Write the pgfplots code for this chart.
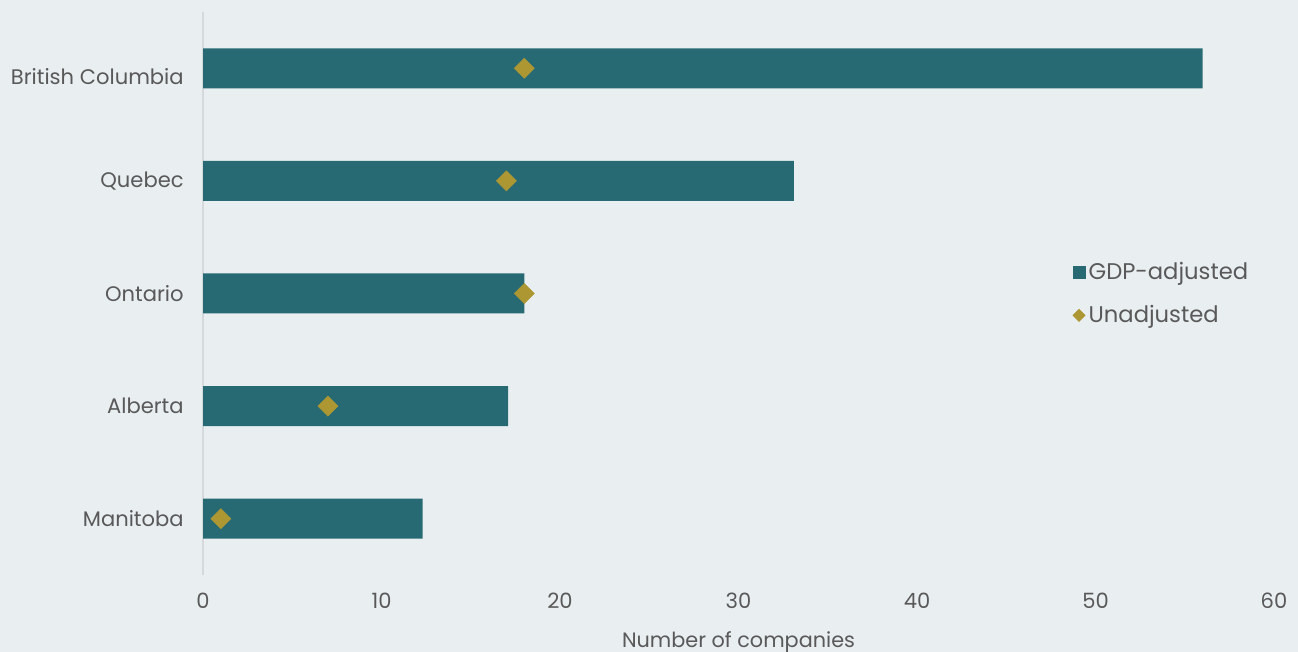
\documentclass[border=0pt]{standalone}
\usepackage{fontspec}
\setmainfont{Poppins}
\usepackage{pgfplots}
\pgfplotsset{compat=1.18}
\definecolor{bg}{HTML}{E9EEF1}
\definecolor{barc}{HTML}{286A73}
\definecolor{diac}{HTML}{AD9733}
\definecolor{txt}{HTML}{595959}
\definecolor{axl}{HTML}{D6D9DB}
\begin{document}
\begin{tikzpicture}
\fill[bg] (0pt,0pt) rectangle (973.5pt,489pt);
\begin{axis}[
  at={(152.25pt,57.75pt)}, anchor=south west,
  scale only axis, width=803.25pt, height=422.25pt,
  xmin=0, xmax=60, ymin=-0.5, ymax=4.5,
  xtick={0,10,...,60},
  ytick={0,1,2,3,4},
  yticklabels={Manitoba,Alberta,Ontario,Quebec,\rule{0pt}{25pt}British Columbia},
  /pgf/number format/assume math mode=true,
  axis lines*=left,
  x axis line style={draw=none},
  y axis line style={draw=axl, line width=1.2pt},
  major tick length=0pt,
  tick label style={font=\fontsize{15.8}{18}\selectfont, text=txt},
  xticklabel style={yshift=-10pt},
  yticklabel style={xshift=-11pt},
  xlabel={Number of companies},
  xlabel style={font=\fontsize{15.6}{18}\selectfont, text=txt, yshift=-10pt},
  legend style={at={(0.808,0.565)}, anchor=north west, draw=none, fill=none,
    font=\fontsize{17}{20}\selectfont, text=txt, row sep=14pt,
    /tikz/every even column/.append style={column sep=2pt}},
  legend cell align=left,
  clip=false,
]
\addplot[xbar, bar width=30pt, fill=barc, draw=none,
  legend image code/.code={\fill[barc] (0pt,-4.9pt) rectangle (9.8pt,4.9pt);}]
  coordinates {(12.3,0) (17.1,1) (18,2) (33.1,3) (56,4)};
\addlegendentry{GDP-adjusted}
\addplot[only marks, mark=square*, mark size=5.3pt, color=diac,
  mark options={rotate=45, fill=diac, draw=none},
  legend image code/.code={\fill[diac] (4.6pt,-4.6pt) -- (9.2pt,0pt) -- (4.6pt,4.6pt) -- (0pt,0pt) -- cycle;}]
  coordinates {(1,0) (7,1) (18,2) (17,3) (18,4)};
\addlegendentry{Unadjusted}
\end{axis}
\pgfresetboundingbox
\path (0pt,0pt) rectangle (973.5pt,489pt);
\end{tikzpicture}
\end{document}
